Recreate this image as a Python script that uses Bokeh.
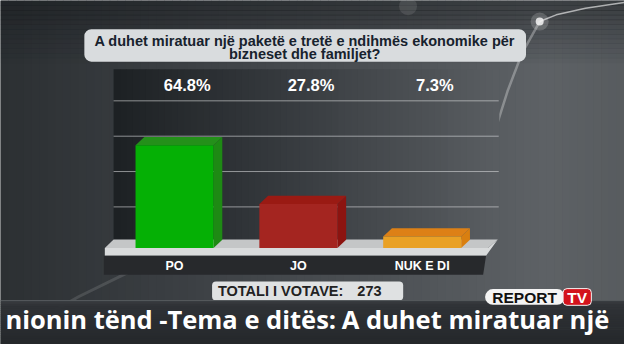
import numpy as np
from bokeh.plotting import figure
from bokeh.models import Range1d
from bokeh.embed import file_html
from bokeh.resources import INLINE
from bokeh.core.properties import value

# ---------------- data ----------------
question_line1 = "A duhet miratuar një paketë e tretë e ndihmës ekonomike për"
question_line2 = "bizneset dhe familjet?"
categories = ["PO", "JO", "NUK E DI"]
percentages = [64.8, 27.8, 7.3]
total_label = "TOTALI I VOTAVE:"
total_votes = 273
ticker_parts = ["nionin tënd -Tema e ditës:", "A duhet miratuar një"]

# ---------------- styles ----------------
front_colors = ["#05b005", "#a42520", "#e9a125"]
side_colors = ["#1e8a14", "#8c1410", "#d97f10"]
top_colors = ["#24901a", "#9a1a13", "#dd8016"]

W, H = 624, 344
RW, RH = 640, 360     # layout units of the design (scaled onto the canvas)
slot = 127.0          # layout units between category centres
first_center = 178.5  # layout x of first category
kv = 1.66             # layout units per percentage point
base_y = 259          # layout y of bar base

x0 = -first_center / slot
xr = Range1d(x0, x0 + RW / slot)
yr = Range1d((base_y - RH) / kv, base_y / kv)

p = figure(width=W, height=H, x_range=xr, y_range=yr, output_backend="svg",
           toolbar_location=None, min_border=0, x_axis_location=None,
           y_axis_location=None)
p.extra_x_ranges = {"px": Range1d(0, RW)}
p.extra_y_ranges = {"px": Range1d(RH, 0)}
p.grid.visible = False
p.outline_line_color = None
p.background_fill_color = "#3f4347"
p.border_fill_color = "#3f4347"

PXK = dict(x_range_name="px", y_range_name="px")


def h2r(h):
    h = h.lstrip("#")
    return np.array([int(h[i:i + 2], 16) for i in (0, 2, 4)], dtype=float)


def grad(stops, pos):
    sp = np.array([s[0] for s in stops], dtype=float)
    cols = np.array([h2r(s[1]) for s in stops])
    out = []
    for t in pos:
        r = np.interp(t, sp, cols[:, 0])
        g = np.interp(t, sp, cols[:, 1])
        b = np.interp(t, sp, cols[:, 2])
        out.append("#%02x%02x%02x" % (int(r), int(g), int(b)))
    return out


def hstrips(x_a, x_b, y_a, y_b, stops, n=60):
    xs = np.linspace(x_a, x_b, n + 1)
    mids = (xs[:-1] + xs[1:]) / 2
    p.quad(left=list(xs[:-1]), right=list(xs[1:] + 0.6), top=[y_a] * n, bottom=[y_b] * n,
           fill_color=grad(stops, mids), line_color=None, **PXK)


def vstrips(x_a, x_b, y_a, y_b, stops, n=30):
    ys = np.linspace(y_a, y_b, n + 1)
    mids = (ys[:-1] + ys[1:]) / 2
    p.quad(left=[x_a] * n, right=[x_b] * n, top=list(ys[:-1]), bottom=list(ys[1:] + 0.6),
           fill_color=grad(stops, mids), line_color=None, **PXK)


FONT = value("Liberation Sans")

# ---------------- background ----------------
hstrips(0, 640, 0, 360, [(0, "#2c3033"), (200, "#3d4145"), (400, "#4e5256"),
                         (560, "#5e6266"), (640, "#585c5f")], n=80)
ys = np.linspace(0, 70, 15)
p.quad(left=[0] * 14, right=[640] * 14, top=list(ys[:-1]), bottom=list(ys[1:] + 0.6),
       fill_color="#15181b", fill_alpha=list(np.linspace(0.45, 0.0, 14)), line_color=None, **PXK)
# light streaks and glows
p.line(x=[640, 600, 570, 553], y=[2, 8, 15, 22], line_color="white", line_alpha=0.6, line_width=1.5, **PXK)
p.line(x=[553, 535, 520, 506], y=[22, 55, 95, 140], line_color="white", line_alpha=0.3, line_width=2.5, **PXK)
p.line(x=[20, 80, 140], y=[345, 310, 280], line_color="white", line_alpha=0.12, line_width=3, **PXK)
p.scatter(x=[553], y=[22], size=18, fill_color="white", fill_alpha=0.18, line_color=None, **PXK)
p.scatter(x=[553], y=[22], size=8, fill_color="#f4f4f4", fill_alpha=0.85, line_color=None, **PXK)
p.scatter(x=[418], y=[6], size=18, fill_color="white", fill_alpha=0.1, line_color=None, **PXK)

# ---------------- question box ----------------
p.quad(left=[86], right=[539], top=[30], bottom=[64], fill_color="#d9dcde",
       line_color=None, border_radius=7, **PXK)
p.text(x=[312, 312], y=[42.5, 56], text=[question_line1, question_line2],
       text_font=FONT, text_font_style="bold", text_font_size="14.5px",
       text_color="#17222d", text_align="center", text_baseline="middle", **PXK)

# ---------------- chart panel ----------------
hstrips(116, 511, 72, 251, [(116, "#1d2124"), (300, "#383c40"), (511, "#5a5e62")], n=60)
for gy in [105, 142, 179, 216]:
    p.line(x=[116, 511], y=[gy, gy], line_color="#d8dadc", line_alpha=0.6, line_width=1, **PXK)

# floor
p.patch(x=[107, 116, 510, 500], y=[259, 250, 250, 259], fill_color="#c4c6c7", line_color=None, **PXK)
p.patch(x=[107, 500, 510, 498, 107], y=[259, 259, 250, 267, 267], fill_color="#d9dbdc", line_color=None, **PXK)
p.patch(x=[106, 498, 495, 106], y=[267, 267, 287, 287], fill_color="#27292c", line_color=None, **PXK)

# ---------------- bars (data) ----------------
idx = np.arange(len(categories), dtype=float)
bw = 80 / slot
dx = 9 / slot
dyv = 8.5 / kv
side_xs, side_ys, top_xs, top_ys = [], [], [], []
for i, v in zip(idx, percentages):
    r = i + bw / 2
    l = i - bw / 2
    side_xs.append([r, r + dx, r + dx, r])
    side_ys.append([0, dyv, v + dyv, v])
    top_xs.append([l, l + dx, r + dx, r])
    top_ys.append([v, v + dyv, v + dyv, v])
p.patches(xs=side_xs, ys=side_ys, fill_color=side_colors, line_color=None)
p.patches(xs=top_xs, ys=top_ys, fill_color=top_colors, line_color=None)
p.vbar(x=idx, width=bw, bottom=0, top=percentages, fill_color=front_colors, line_color=None)

p.text(x=list(idx + 13 / slot), y=[88] * len(categories), text=[f"{v}%" for v in percentages],
       text_font=FONT, text_font_style="bold", text_font_size="16.5px",
       text_color="white", text_align="center", text_baseline="middle", y_range_name="px")
p.text(x=list(idx), y=[277.5] * len(categories), text=categories,
       text_font=FONT, text_font_style="bold", text_font_size="12.5px",
       text_color="white", text_align="center", text_baseline="middle", y_range_name="px")

# ---------------- total votes ----------------
p.quad(left=[217], right=[413], top=[294], bottom=[314], fill_color="#dfe1e2",
       line_color=None, border_radius=4, **PXK)
p.text(x=[223], y=[304.5], text=[total_label], text_font=FONT,
       text_font_style="bold", text_font_size="14.5px", text_color="#222222",
       text_align="left", text_baseline="middle", **PXK)
p.text(x=[366], y=[304.5], text=[str(total_votes)], text_font=FONT,
       text_font_style="bold", text_font_size="14.5px", text_color="#222222",
       text_align="left", text_baseline="middle", **PXK)

# ---------------- ticker ----------------
vstrips(0, 640, 314, 360, [(314, "#3a3d41"), (320, "#2f3236"), (360, "#25282b")], n=23)
p.line(x=[0, 640], y=[314, 314], line_color="#55595c", line_width=1, **PXK)
p.text(x=[5, 350], y=[333, 333], text=ticker_parts, text_font=value("Open Sans"),
       text_font_style="bold", text_font_size="25.5px", text_color="white",
       text_align="left", text_baseline="middle", **PXK)

# ---------------- logo ----------------
p.quad(left=[497], right=[579], top=[302], bottom=[318.5], fill_color="#f4f4f4",
       line_color=None, border_radius=8, **PXK)
p.quad(left=[577], right=[606], top=[301.5], bottom=[319], fill_color="#d3131c",
       line_color="#f4f4f4", line_width=1, border_radius=4, **PXK)
p.text(x=[537.5], y=[311], text=["REPORT"], text_font=FONT,
       text_font_style="bold", text_font_size="15.5px", text_color="#111111",
       text_align="center", text_baseline="middle", **PXK)
p.text(x=[591.5], y=[311], text=["TV"], text_font=FONT,
       text_font_style="bold", text_font_size="15.5px", text_color="white",
       text_align="center", text_baseline="middle", **PXK)

open("out.html", "w").write(file_html(p, INLINE))
